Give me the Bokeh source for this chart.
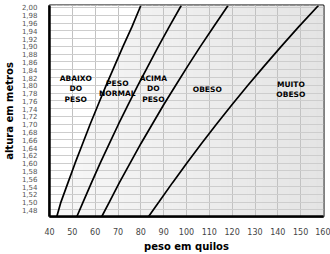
import numpy as np
from bokeh.plotting import figure
from bokeh.models import Range1d, FixedTicker, CustomJSTickFormatter
from bokeh.core.properties import value
from bokeh.embed import file_html
from bokeh.resources import INLINE

# ---- data ----
heights = [1.463, 1.50, 1.55, 1.60, 1.65, 1.70, 1.75, 1.80, 1.85, 1.90, 1.95, 2.005]
curve_abaixo = [43.2, 45.0, 48.1, 51.2, 54.5, 57.8, 61.3, 64.8, 68.5, 72.2, 76.1, 80.0]
curve_normal = [52.0, 54.7, 58.4, 62.2, 66.2, 70.2, 74.4, 78.7, 83.2, 87.7, 92.4, 97.7]
curve_acima = [62.9, 66.2, 70.6, 75.3, 80.0, 85.0, 90.0, 95.3, 100.6, 106.1, 111.8, 118.2]
curve_obeso = [83.4, 87.9, 93.9, 100.1, 106.5, 113.1, 119.9, 126.9, 134.1, 141.5, 149.1, 157.8]

zone_labels = ["ABAIXO\nDO\nPESO", "PESO\nNORMAL", "ACIMA\nDO\nPESO", "OBESO", "MUITO\nOBESO"]
zone_x = [51.5, 69.7, 85.5, 109.1, 145.7]
zone_y = [1.791, 1.792, 1.791, 1.789, 1.789]

x_ticks = [40, 50, 60, 70, 80, 90, 100, 110, 120, 130, 140, 150, 160]
y_ticks = [round(1.48 + 0.02 * i, 2) for i in range(27)]

X0, X1 = 40, 160
Y0, Y1 = 1.463, 2.005

FONT = "DejaVu Sans"

p = figure(width=330, height=254, output_backend="svg", toolbar_location=None,
           x_range=Range1d(X0, X1), y_range=Range1d(Y0, Y1),
           min_border_left=41, min_border_right=7, min_border_top=5, min_border_bottom=31)

# gradient background (light gray getting darker to the right)
edges = np.linspace(X0, X1, 41)
lefts = edges[:-1]
rights = edges[1:]
cols = []
for i in range(len(lefts)):
    t = i / (len(lefts) - 1)
    g = int(round(248 - t * 20))
    cols.append("#%02x%02x%02x" % (g, g, g))
p.quad(left=lefts, right=rights, bottom=Y0, top=Y1, fill_color=cols,
       line_color=cols, line_width=1, level="image")

# white underweight region
px = [X0, X0] + curve_abaixo[::-1]
py = [Y0, Y1] + heights[::-1]
p.patch(px, py, fill_color="white", line_color=None, level="image")

for c in [curve_abaixo, curve_normal, curve_acima, curve_obeso]:
    p.line(c, heights, line_color="black", line_width=1.7)

p.text(zone_x, zone_y, text=zone_labels, text_align="center", text_baseline="middle",
       text_font=value(FONT), text_font_style="bold", text_font_size="7.5px",
       text_line_height=1.15, text_color="black")

# grids
p.xgrid.ticker = FixedTicker(ticks=x_ticks)
p.ygrid.ticker = FixedTicker(ticks=y_ticks)
p.xgrid.grid_line_color = "#c2c2c2"
p.ygrid.grid_line_color = "#cdcdcd"
p.xgrid.grid_line_width = 1
p.ygrid.grid_line_width = 1

# axes
p.xaxis.ticker = FixedTicker(ticks=x_ticks)
p.yaxis.ticker = FixedTicker(ticks=y_ticks)
p.yaxis.formatter = CustomJSTickFormatter(code="return tick.toFixed(2).replace('.', ',');")
for ax in [p.xaxis[0], p.yaxis[0]]:
    ax.axis_line_color = "black"
    ax.axis_line_width = 2.5
    ax.major_tick_line_color = None
    ax.minor_tick_line_color = None
    ax.major_label_text_font = FONT
    ax.axis_label_text_font = FONT
    ax.axis_label_text_font_style = "bold"
    ax.axis_label_text_font_size = "10px"
    ax.axis_label_text_color = "black"

p.xaxis.axis_label = "peso em quilos"
p.yaxis.axis_label = "altura em metros"
p.xaxis.major_label_text_font_size = "8px"
p.xaxis.major_label_text_color = "#444444"
p.yaxis.major_label_text_font_size = "7px"
p.yaxis.major_label_text_color = "#555555"
p.xaxis.major_label_standoff = 5
p.yaxis.major_label_standoff = 6
p.xaxis.axis_label_standoff = 3
p.yaxis.axis_label_standoff = 4

p.outline_line_color = "black"
p.outline_line_width = 2
p.outline_line_alpha = 1
p.background_fill_color = "white"
p.border_fill_color = "white"

open("out.html", "w").write(file_html(p, INLINE))
